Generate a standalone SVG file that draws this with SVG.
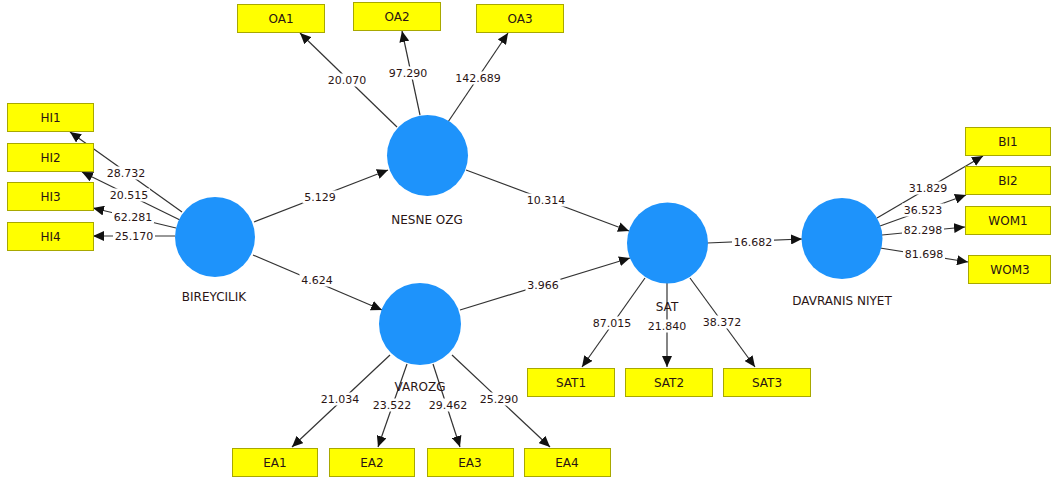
<svg xmlns="http://www.w3.org/2000/svg" width="1051" height="483" viewBox="0 0 1051 483">
<defs>
<marker id="ah" markerUnits="userSpaceOnUse" markerWidth="12" markerHeight="10" refX="11" refY="5" orient="auto">
<path d="M0,0 L11,5 L0,10 z" fill="#111"/>
</marker>
<style>
.c{fill:#1E93FB}
.b{fill:#FFFF00;stroke:#A8A800;stroke-width:1}
.bt{font-family:"DejaVu Sans",sans-serif;font-size:12px;fill:#2a1414;text-anchor:middle;dominant-baseline:central}
.ct{font-family:"DejaVu Sans",sans-serif;font-size:12px;fill:#2a1414;text-anchor:middle}
.l{stroke:#333;stroke-width:1.2;fill:none;marker-end:url(#ah)}
.w{fill:#fff}
.n{font-family:"DejaVu Sans",sans-serif;font-size:11px;fill:#2a1414;text-anchor:middle;dominant-baseline:central}
</style>
</defs>
<rect width="1051" height="483" fill="#fff"/>
<g id="connectors">
<line class="l" x1="182" y1="212" x2="70" y2="132"/>
<line class="l" x1="180" y1="220" x2="82" y2="172"/>
<line class="l" x1="176" y1="228" x2="93" y2="208"/>
<line class="l" x1="175" y1="236" x2="93" y2="236"/>
<line class="l" x1="397" y1="127" x2="300" y2="33"/>
<line class="l" x1="420" y1="115" x2="402" y2="31"/>
<line class="l" x1="448" y1="122" x2="508" y2="33"/>
<line class="l" x1="254" y1="222" x2="388" y2="170"/>
<line class="l" x1="253" y1="255" x2="382" y2="310"/>
<line class="l" x1="466" y1="170" x2="629" y2="231"/>
<line class="l" x1="460" y1="310" x2="630" y2="258"/>
<line class="l" x1="707" y1="243" x2="802" y2="239"/>
<line class="l" x1="645" y1="278" x2="582" y2="367"/>
<line class="l" x1="667" y1="283" x2="667" y2="367"/>
<line class="l" x1="690" y1="278" x2="755" y2="367"/>
<line class="l" x1="390" y1="355" x2="292" y2="447"/>
<line class="l" x1="407" y1="364" x2="378" y2="447"/>
<line class="l" x1="433" y1="364" x2="460" y2="447"/>
<line class="l" x1="452" y1="355" x2="550" y2="447"/>
<line class="l" x1="877" y1="218" x2="983" y2="156"/>
<line class="l" x1="880" y1="226" x2="966" y2="195"/>
<line class="l" x1="882" y1="235" x2="965" y2="227"/>
<line class="l" x1="880" y1="248" x2="968" y2="262"/>
<rect class="w" x="105" y="166.5" width="42" height="13"/><text class="n" x="126" y="173">28.732</text>
<rect class="w" x="108" y="188.5" width="42" height="13"/><text class="n" x="129" y="195">20.515</text>
<rect class="w" x="112" y="210.5" width="42" height="13"/><text class="n" x="133" y="217">62.281</text>
<rect class="w" x="113" y="229.5" width="42" height="13"/><text class="n" x="134" y="236">25.170</text>
<rect class="w" x="326" y="73.5" width="42" height="13"/><text class="n" x="347" y="80">20.070</text>
<rect class="w" x="387" y="66.5" width="42" height="13"/><text class="n" x="408" y="73">97.290</text>
<rect class="w" x="455" y="71.5" width="46" height="13"/><text class="n" x="478" y="78">142.689</text>
<rect class="w" x="302.5" y="190.5" width="35" height="13"/><text class="n" x="320" y="197">5.129</text>
<rect class="w" x="299.5" y="273.5" width="35" height="13"/><text class="n" x="317" y="280">4.624</text>
<rect class="w" x="525" y="193.5" width="42" height="13"/><text class="n" x="546" y="200">10.314</text>
<rect class="w" x="525.5" y="278.5" width="35" height="13"/><text class="n" x="543" y="285">3.966</text>
<rect class="w" x="732" y="235.5" width="42" height="13"/><text class="n" x="753" y="242">16.682</text>
<rect class="w" x="591" y="316.5" width="42" height="13"/><text class="n" x="612" y="323">87.015</text>
<rect class="w" x="646" y="319.5" width="42" height="13"/><text class="n" x="667" y="326">21.840</text>
<rect class="w" x="701" y="315.5" width="42" height="13"/><text class="n" x="722" y="322">38.372</text>
<rect class="w" x="319" y="392.5" width="42" height="13"/><text class="n" x="340" y="399">21.034</text>
<rect class="w" x="371" y="398.5" width="42" height="13"/><text class="n" x="392" y="405">23.522</text>
<rect class="w" x="427" y="398.5" width="42" height="13"/><text class="n" x="448" y="405">29.462</text>
<rect class="w" x="478" y="392.5" width="42" height="13"/><text class="n" x="499" y="399">25.290</text>
<rect class="w" x="907" y="181.5" width="42" height="13"/><text class="n" x="928" y="188">31.829</text>
<rect class="w" x="902" y="203.5" width="42" height="13"/><text class="n" x="923" y="210">36.523</text>
<rect class="w" x="902" y="223.5" width="42" height="13"/><text class="n" x="923" y="230">82.298</text>
<rect class="w" x="903" y="247.5" width="42" height="13"/><text class="n" x="924" y="254">81.698</text>
</g>
<g id="BIREYCILIK"><circle class="c" cx="215" cy="237" r="40"/><text class="ct" x="214" y="301">BIREYCILIK</text></g>
<g id="NESNE_OZG"><circle class="c" cx="427.5" cy="155.5" r="40.5"/><text class="ct" x="427" y="224">NESNE OZG</text></g>
<g id="VAROZG"><circle class="c" cx="420" cy="324" r="41"/><text class="ct" x="420" y="391">VAROZG</text></g>
<g id="SAT"><circle class="c" cx="667.5" cy="243" r="40.5"/><text class="ct" x="667" y="311">SAT</text></g>
<g id="DAVRANIS_NIYET"><circle class="c" cx="842" cy="238.5" r="40.5"/><text class="ct" x="842" y="305">DAVRANIS NIYET</text></g>
<g id="HI1"><rect class="b" x="7.5" y="103.5" width="86" height="28"/><text class="bt" x="50.5" y="117.5">HI1</text></g>
<g id="HI2"><rect class="b" x="7.5" y="143.5" width="86" height="28"/><text class="bt" x="50.5" y="157.5">HI2</text></g>
<g id="HI3"><rect class="b" x="7.5" y="182.5" width="86" height="28"/><text class="bt" x="50.5" y="196.5">HI3</text></g>
<g id="HI4"><rect class="b" x="7.5" y="222.5" width="86" height="28"/><text class="bt" x="50.5" y="236.5">HI4</text></g>
<g id="OA1"><rect class="b" x="237.5" y="4.5" width="87" height="28"/><text class="bt" x="281" y="18.5">OA1</text></g>
<g id="OA2"><rect class="b" x="353.5" y="2.5" width="87" height="28"/><text class="bt" x="397" y="16.5">OA2</text></g>
<g id="OA3"><rect class="b" x="476.5" y="4.5" width="87" height="28"/><text class="bt" x="520" y="18.5">OA3</text></g>
<g id="BI1"><rect class="b" x="965.5" y="127.5" width="85" height="28"/><text class="bt" x="1008" y="141.5">BI1</text></g>
<g id="BI2"><rect class="b" x="965.5" y="166.5" width="85" height="28"/><text class="bt" x="1008" y="180.5">BI2</text></g>
<g id="WOM1"><rect class="b" x="965.5" y="206.5" width="85" height="28"/><text class="bt" x="1008" y="220.5">WOM1</text></g>
<g id="WOM3"><rect class="b" x="968.5" y="255.5" width="82" height="28"/><text class="bt" x="1010" y="269.5">WOM3</text></g>
<g id="EA1"><rect class="b" x="232.5" y="448.5" width="85" height="28"/><text class="bt" x="275" y="462.5">EA1</text></g>
<g id="EA2"><rect class="b" x="329.5" y="448.5" width="85" height="28"/><text class="bt" x="372" y="462.5">EA2</text></g>
<g id="EA3"><rect class="b" x="427.5" y="448.5" width="86" height="28"/><text class="bt" x="470" y="462.5">EA3</text></g>
<g id="EA4"><rect class="b" x="524.5" y="448.5" width="86" height="28"/><text class="bt" x="567" y="462.5">EA4</text></g>
<g id="SAT1"><rect class="b" x="527.5" y="368.5" width="87" height="28"/><text class="bt" x="571" y="382.5">SAT1</text></g>
<g id="SAT2"><rect class="b" x="625.5" y="368.5" width="87" height="28"/><text class="bt" x="669" y="382.5">SAT2</text></g>
<g id="SAT3"><rect class="b" x="723.5" y="368.5" width="87" height="28"/><text class="bt" x="767" y="382.5">SAT3</text></g>
</svg>
